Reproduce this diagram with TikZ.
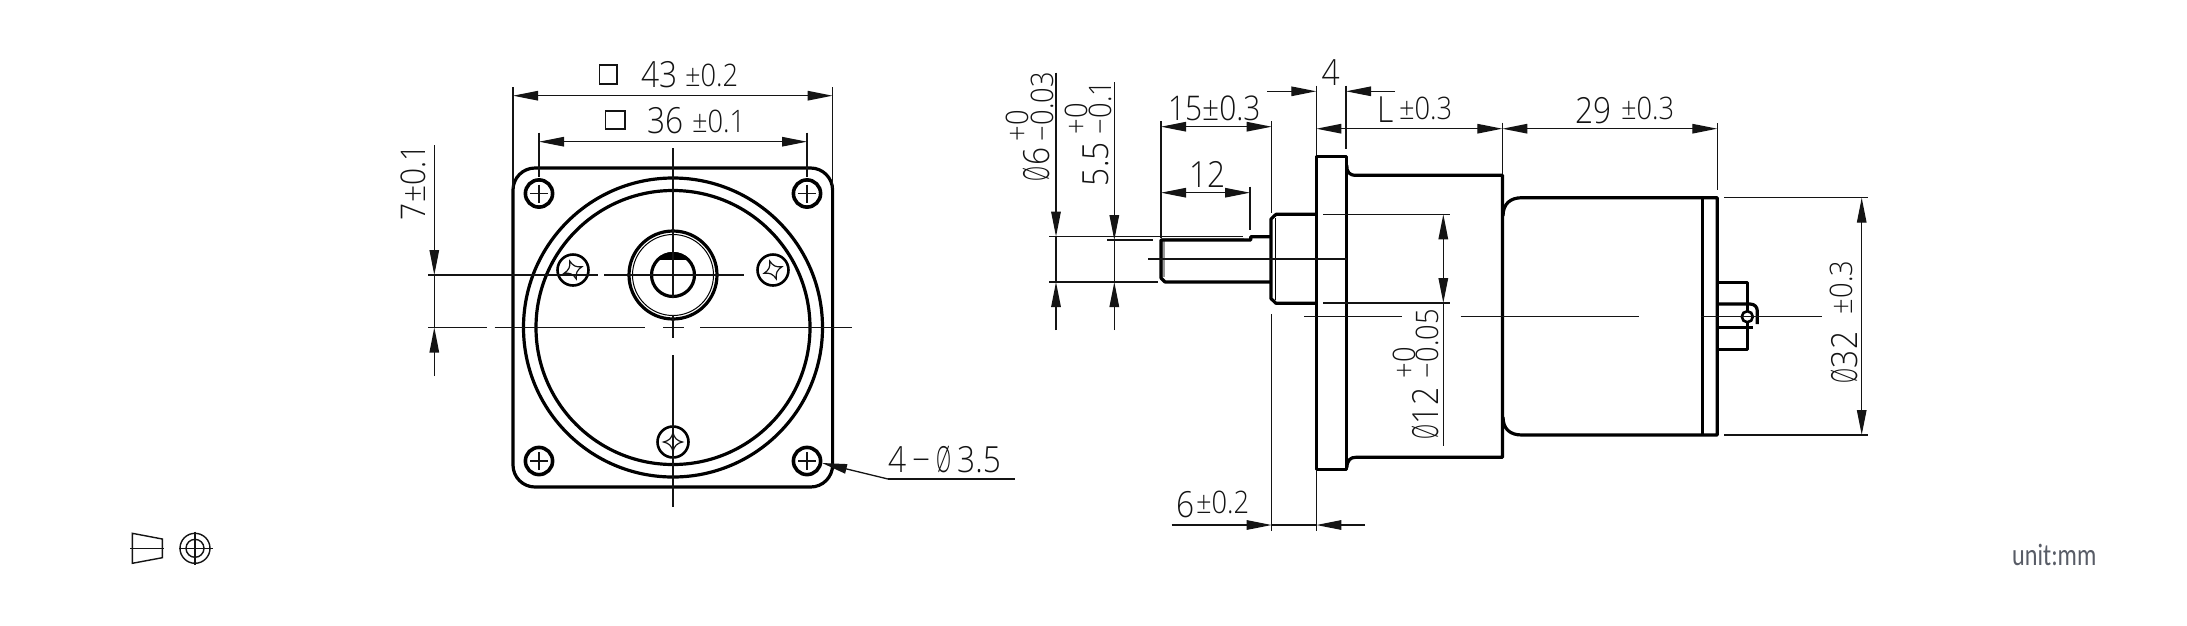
\documentclass[tikz,border=0pt]{standalone}
\usepackage{fontspec}
\usetikzlibrary{arrows.meta}
\newfontfamily\dwg{Open Sans}[UprightFont=* Light,FakeStretch=0.88]
\newfontfamily\unitf{Carlito}[FakeStretch=0.78]
\definecolor{ink}{RGB}{20,20,20}
\definecolor{unitc}{RGB}{88,92,102}
\newcommand{\phisym}{\scalebox{.62}[1]{Ø}}
\tikzset{
  thk/.style={line width=3.2pt,black,line join=round},
  med/.style={line width=2.6pt,black},
  thn/.style={line width=1.3pt,ink},
  dimline/.style={thn,{Triangle[length=25pt,width=9.5pt]}-{Triangle[length=25pt,width=9.5pt]}},
  endtip/.style={thn,-{Triangle[length=25pt,width=9.5pt]}},
  bg/.style={ink,inner sep=0pt,outer sep=0pt,anchor=base west,font=\fontsize{36}{36}\selectfont\dwg},
  mid/.style={bg,font=\fontsize{34}{36}\selectfont\dwg},
  sm/.style={bg,font=\fontsize{31}{32}\selectfont\dwg},
  tiny/.style={bg,font=\fontsize{31}{32}\selectfont\dwg},
  rot/.style={rotate=90},
}
\newcommand{\holeat}[2]{
  \draw[line width=3.6pt,black] (#1,#2) circle[radius=13.6pt];
  \draw[thn] (#1-9,#2) -- (#1+9,#2) (#1,#2-9) -- (#1,#2+9);
}
\newcommand{\screwat}[3]{
  \draw[med] (#1,#2) circle[radius=15.5pt];
  \begin{scope}[shift={(#1,#2)},rotate=#3]
    \draw[line width=1.2pt,ink] (0,-9.5) .. controls (1.2,-4) and (4,-1.2) .. (9.5,0)
      .. controls (4,1.2) and (1.2,4) .. (0,9.5)
      .. controls (-1.2,4) and (-4,1.2) .. (-9.5,0)
      .. controls (-4,-1.2) and (-1.2,-4) .. (0,-9.5) -- cycle;
  \end{scope}
}
\begin{document}
\begin{tikzpicture}[x=1pt,y=-1pt]
\useasboundingbox (0,0) rectangle (2187,625);
\fill[white] (0,0) rectangle (2187,625);

%% ---------- front view ----------
\draw[thk,rounded corners=22pt] (513,168) rectangle (832.6,487);
\draw[thk] (673,327.5) circle[radius=149.5pt];
\draw[thk] (673,327.5) circle[radius=137pt];
\holeat{539}{193.5}\holeat{807}{193.5}\holeat{539}{461}\holeat{807}{461}
\screwat{573}{270}{20}\screwat{773}{270}{20}\screwat{673}{442}{0}
% hub
\draw[thk] (673,275) circle[radius=44pt];
\draw[line width=1pt,black] (673,275) circle[radius=40.5pt];
\draw[thk] (673,275) circle[radius=21.5pt];
\begin{scope}
  \clip (650,252) rectangle (696,259);
  \fill[black] (673,275) circle[radius=23pt];
\end{scope}
% centre lines
\draw[thn] (673,148) -- (673,298) (673,315) -- (673,338) (673,355) -- (673,507);
\draw[thn] (428.4,327.5) -- (487,327.5) (494.5,327.5) -- (645,327.5) (663,327.5) -- (684,327.5) (700,327.5) -- (851.5,327.5);
\draw[thn] (428.4,275) -- (598,275) (604.4,275) -- (744,275);
% dims
\draw[thn] (513,87) -- (513,188) (832.6,87) -- (832.6,188);
\draw[dimline] (513,95.7) -- (832.6,95.7);
\draw[thn] (539,132.7) -- (539,177) (807,132.7) -- (807,177);
\draw[dimline] (539,141.7) -- (807,141.7);
\draw[thn] (599.5,65) rectangle (617,84);
\draw[thn] (605.5,111) rectangle (625,129);
\node[bg] (t43) at (641,87) {43};
\node[sm] (t43b) at (685,86) {±0.2};
\node[bg] (t36) at (647,133) {36};
\node[sm] (t36b) at (692,132) {±0.1};
\draw[endtip] (434.3,145) -- (434.3,275);
\draw[endtip] (434.3,376) -- (434.3,327.5);
\draw[thn] (434.3,275) -- (434.3,327.5);
\node[mid,rot] (t7) at (425,220) {7±0.1};
% leader
\draw[thn] (1014.5,479) -- (888,479);
\coordinate (leadtip) at (822,463);
\draw[endtip] (888,479) -- (leadtip);
\node[bg] (t4d) at (888,472) {4\,−\,\phisym\,3.5};

%% ---------- side view ----------
% shaft
\fill[gray!70] (1161,237.6) rectangle (1244,239);
\fill[gray!80] (1161.5,241) rectangle (1165,277);
\draw[thk] (1270.7,236.7) -- (1250.7,236.7) -- (1250.7,240) -- (1161,240) -- (1161,278) -- (1165,282) -- (1271,282);
\draw[thk] (1316.5,214.3) -- (1276,214.3) -- (1271,219) -- (1271,298.6) -- (1276,303.3) -- (1316.5,303.3);
\draw[line width=1pt,black] (1275,218) -- (1275,300);
% flange & gearbox
\draw[thk] (1316.5,156.7) rectangle (1346.7,469.3);
\draw[thk] (1346.7,165) .. controls (1346.7,172) and (1349,175.3) .. (1356,175.3) -- (1502.5,175.3) -- (1502.5,457.3) -- (1356,457.3) .. controls (1350,457.3) and (1347.5,460) .. (1346.7,468);
% motor
\draw[thk] (1503,216) .. controls (1503,204) and (1510,197.7) .. (1522,197.7) -- (1717.3,197.7) -- (1717.3,435) -- (1522,435) .. controls (1510,435) and (1503,429) .. (1503,417);
\draw[thk] (1702.7,197.7) -- (1702.7,435);
% terminal
\draw[thk] (1717.3,282.7) -- (1747.3,282.7) -- (1747.3,349.3) -- (1717.3,349.3);
\draw[thk] (1717.3,304) -- (1750,304) .. controls (1754.5,304) and (1757.3,307) .. (1757.3,311) -- (1757.3,324);
\draw[thk] (1717.3,327.7) -- (1753,327.7);
\fill[white] (1747.3,316.7) circle[radius=6pt];
\draw[med] (1747.3,316.7) circle[radius=5.5pt];
% centre lines
\draw[thn] (1148,259) -- (1346.7,259);
\draw[thn] (1304,316.7) -- (1401.7,316.7) (1460.7,316.7) -- (1639,316.7) (1700.7,316.7) -- (1821.7,316.7);
% phi 6 / 5.5
\draw[thn] (1049,236.7) -- (1243,236.7);
\draw[thn] (1049,282) -- (1157.7,282);
\draw[thn] (1107,240) -- (1153,240);
\draw[endtip] (1056,72.7) -- (1056,236.7);
\draw[endtip] (1056,330) -- (1056,282);
\draw[thn] (1056,236.7) -- (1056,282);
\draw[endtip] (1114.3,82.3) -- (1114.3,240);
\draw[endtip] (1114.3,330) -- (1114.3,282);
\draw[thn] (1114.3,240) -- (1114.3,282);
\node[bg,rot] (ta) at (1049,181) {\phisym 6};
\node[tiny,rot] (tb) at (1028,141) {+0};
\node[tiny,rot] (tc) at (1053,141) {−0.03};
\node[bg,rot] (td) at (1108,186) {5.5};
\node[tiny,rot] (te) at (1087,134) {+0};
\node[tiny,rot] (tf) at (1111,134) {−0.1};
% 15, 12
\draw[thn] (1161,121) -- (1161,238) (1271.7,121) -- (1271.7,213);
\draw[dimline] (1161,126.7) -- (1271.7,126.7);
\node[mid] (t15) at (1168,120) {15±0.3};
\draw[thn] (1250,186.7) -- (1250,230);
\draw[dimline] (1161,192.7) -- (1250,192.7);
\node[bg] (t12) at (1189,187) {12};
% 4
\draw[thn] (1316.3,85.7) -- (1316.3,155) (1346,85.7) -- (1346,149.3);
\draw[endtip] (1267,91.3) -- (1316.3,91.3);
\draw[endtip] (1395,91.3) -- (1346,91.3);
\node[bg] (t4) at (1321.5,85) {4};
% L
\draw[thn] (1502.3,122.7) -- (1502.3,174);
\draw[dimline] (1316.3,128.7) -- (1502.3,128.7);
\node[bg] (tL) at (1377,122) {L};
\node[sm] (tLb) at (1399,119) {±0.3};
% 29
\draw[thn] (1717.3,123) -- (1717.3,190);
\draw[dimline] (1502.3,128.7) -- (1717.3,128.7);
\node[bg] (t29) at (1575,123) {29};
\node[sm] (t29b) at (1621,119) {±0.3};
% phi 32
\draw[thn] (1724,197.7) -- (1867.7,197.7) (1724,435) -- (1867.7,435);
\draw[dimline] (1861.7,197.7) -- (1861.7,435);
\node[bg,rot] (t32) at (1857,383) {\phisym 32};
\node[sm,rot] (t32b) at (1852,314) {±0.3};
% phi 12
\draw[thn] (1323,214.3) -- (1450,214.3) (1323,303) -- (1450,303);
\draw[dimline] (1443.3,214.3) -- (1443.3,303);
\draw[thn] (1443.3,303) -- (1443.3,445.7);
\node[bg,rot] (t12a) at (1438,439) {\phisym 12};
\node[tiny,rot] (t12b) at (1415,378) {+0};
\node[tiny,rot] (t12c) at (1438,378) {−0.05};
% 6
\draw[thn] (1271.7,314) -- (1271.7,531) (1316.3,470) -- (1316.3,531);
\draw[endtip] (1171.7,525) -- (1271.7,525);
\draw[endtip] (1365,525) -- (1316.3,525);
\draw[thn] (1271.7,525) -- (1316.3,525);
\node[bg] (t6) at (1176,517) {6};
\node[sm] (t6b) at (1196,513) {±0.2};

%% ---------- projection symbol, unit ----------
\draw[line width=1.4pt,ink] (132.3,533.3) -- (162.3,539) -- (162.3,557.7) -- (132.3,563.3) -- cycle;
\draw[line width=1.4pt,ink] (130,548.3) -- (164.3,548.3);
\draw[line width=1.4pt,ink] (195,548.3) circle[radius=15pt] (195,548.3) circle[radius=9pt];
\draw[line width=1.4pt,ink] (179,548.3) -- (212.7,548.3) (195,531.7) -- (195,565);
\node[anchor=base west,inner sep=0pt,text=unitc,font=\fontsize{31}{31}\selectfont\unitf] (unit) at (2012,565) {unit:mm};
\end{tikzpicture}
\end{document}
